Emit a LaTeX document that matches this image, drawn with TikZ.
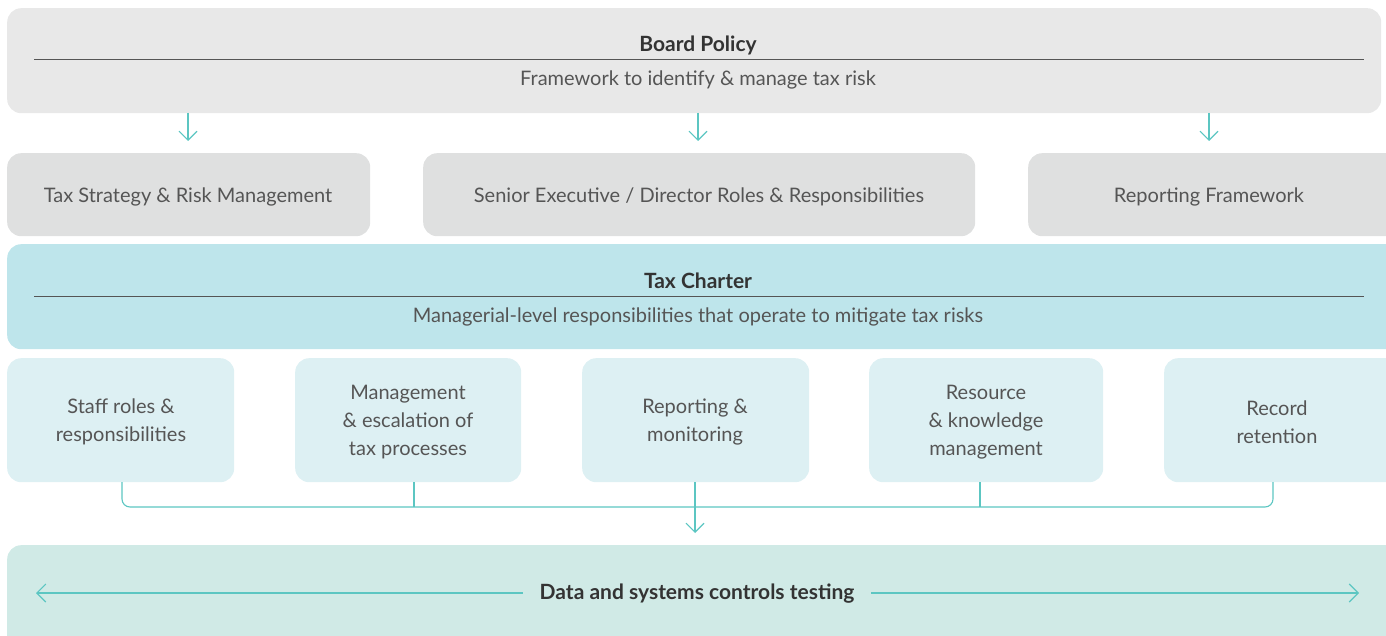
\documentclass[tikz,border=0pt]{standalone}
\usepackage{fontspec}
\setmainfont{Lato}
\usetikzlibrary{arrows.meta,calc}
\definecolor{boardc}{HTML}{E8E8E8}
\definecolor{rowtwo}{HTML}{DFE0E0}
\definecolor{charterc}{HTML}{BEE5EB}
\definecolor{rowthree}{HTML}{DDF0F3}
\definecolor{bottomc}{HTML}{D0EAE6}
\definecolor{teal}{HTML}{5CC6C2}
\definecolor{txt}{HTML}{555555}
\definecolor{boldtxt}{HTML}{333333}
\definecolor{rulec}{HTML}{555555}
\tikzset{
  panel/.style={rounded corners=14pt, inner sep=0pt, anchor=north west},
  lbl/.style={text=txt, font=\fontsize{20}{28}\selectfont, align=center},
  ttl/.style={text=boldtxt, font=\fontsize{21}{26}\selectfont\bfseries},
  conn/.style={draw=teal, line width=1.1pt},
  tip/.style={-{Straight Barb[length=9pt,width=18pt,line width=1.1pt]}},
}
\begin{document}
\begin{tikzpicture}[x=1pt,y=-1pt]
\useasboundingbox (0,0) rectangle (1386,636);
\clip (0,0) rectangle (1386,636);
% Board policy
\node[panel, fill=boardc, minimum width=1374pt, minimum height=105pt] (board) at (7,8) {};
\node[ttl] (boardt) at (698,45) {Board Policy};
\node[lbl] (boardd) at (698,80) {Framework to identify \& manage tax risk};
\coordinate (br1) at (34,60);
\coordinate (br2) at (1364,60);
\draw[rulec, line width=1pt] (br1) -- (br2);
% Row 2
\node[panel, fill=rowtwo, minimum width=363pt, minimum height=83pt] (t1) at (7,153) {};
\node[panel, fill=rowtwo, minimum width=552pt, minimum height=83pt] (t2) at (423,153) {};
\node[panel, fill=rowtwo, minimum width=372pt, minimum height=83pt] (t3) at (1028,153) {};
\node[lbl] at (188,197) {Tax Strategy \& Risk Management};
\node[lbl] at (699,197) {Senior Executive / Director Roles \& Responsibilities};
\node[lbl] at (1209,197) {Reporting Framework};
\foreach \n/\xx in {t1/188,t2/698,t3/1209}{
  \draw[conn, tip, shorten >=12pt] (\xx,113) -- (\xx,153);
}
% Tax charter
\node[panel, fill=charterc, minimum width=1395pt, minimum height=105pt] (charter) at (7,244) {};
\node[ttl] at (698,281) {Tax Charter};
\node[lbl] at (698,317) {Managerial-level responsibilities that operate to mitigate tax risks};
\coordinate (cr1) at (34,296);
\coordinate (cr2) at (1364,296);
\draw[rulec, line width=1pt] (cr1) -- (cr2);
% Row 3
\node[panel, fill=rowthree, minimum width=227pt, minimum height=124pt] (s1) at (7,358) {};
\node[panel, fill=rowthree, minimum width=226pt, minimum height=124pt] (s2) at (295,358) {};
\node[panel, fill=rowthree, minimum width=227pt, minimum height=124pt] (s3) at (582,358) {};
\node[panel, fill=rowthree, minimum width=234pt, minimum height=124pt] (s4) at (869,358) {};
\node[panel, fill=rowthree, minimum width=240pt, minimum height=124pt] (s5) at (1164,358) {};
\node[lbl] at (121,422) {Staff roles \&\\responsibilities};
\node[lbl] at (408,422) {Management\\\& escalation of\\tax processes};
\node[lbl] at (695,422) {Reporting \&\\monitoring};
\node[lbl] at (986,422) {Resource\\\& knowledge\\management};
\node[lbl] at (1277,422) {Record\\retention};
% Bottom
\node[panel, fill=bottomc, minimum width=1395pt, minimum height=110pt] (bottom) at (7,545) {};
\node[ttl, inner xsep=17pt] (dt) at (697,594) {Data and systems controls testing};
\coordinate (la) at (36,593);
\coordinate (ra) at (1359,593);
\draw[conn, tip] (dt.west |- la) -- (la);
\draw[conn, tip] (dt.east |- ra) -- (ra);
% connectors
\coordinate (c1) at (122,482);
\coordinate (c2) at (414,482);
\coordinate (c3) at (695,482);
\coordinate (c4) at (980,482);
\coordinate (c5) at (1273,482);
\coordinate (bus) at (0,507);
\draw[conn, rounded corners=8pt] (c1) -- (c1 |- bus) -- (c5 |- bus) -- (c5);
\draw[conn] (c2) -- (c2 |- bus);
\draw[conn] (c4) -- (c4 |- bus);
\draw[conn, tip, shorten >=12pt] (c3) -- (c3 |- bottom.north);
\end{tikzpicture}
\end{document}
